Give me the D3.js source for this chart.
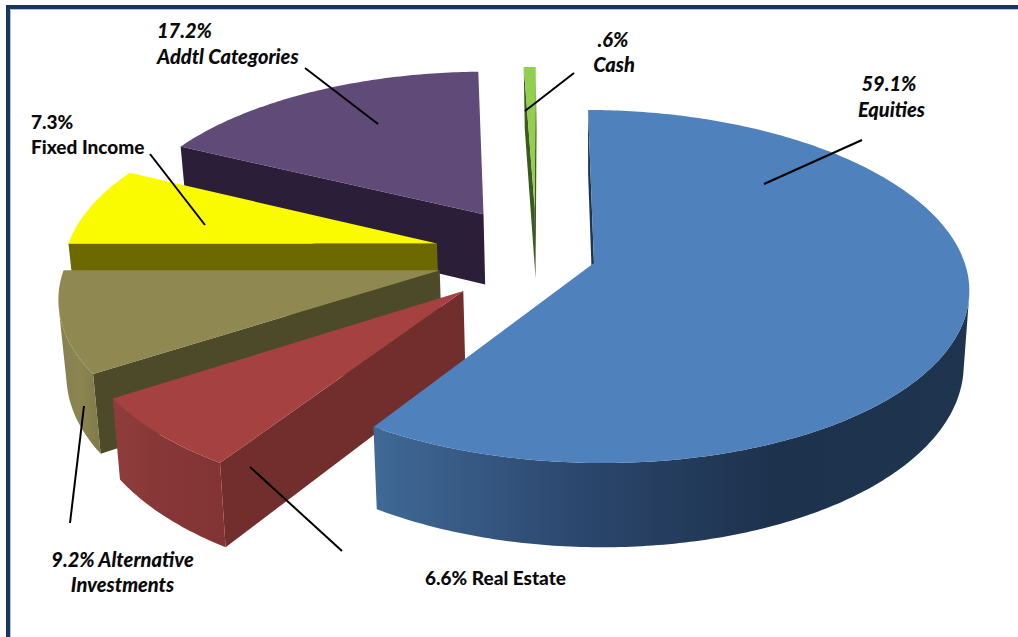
<!DOCTYPE html>
<html>
<head>
<meta charset="utf-8">
<script src="https://cdn.jsdelivr.net/npm/d3@7"></script>
<style>
  html, body { margin: 0; padding: 0; background: #fff; }
  svg { display: block; }
  text { font-family: Lato, "Open Sans", sans-serif; font-weight: 900; fill: #0a0a0a; }
</style>
</head>
<body>
<svg id="chart" width="1018" height="637"></svg>
<script>
// Portfolio allocation, clockwise from twelve o'clock
const categories = ["Equities", "Real Estate", "Alternative Investments", "Fixed Income", "Addtl Categories", "Cash"];
const shares = [59.1, 6.6, 9.2, 7.3, 17.2, 0.6];

// Face colours per slice
const topColours = ["#4f81bd", "#a64141", "#8f8850", "#fbfb00", "#5f4a78", "#90d04e"];
const wallColours = ["#1e3650", "#722e2d", "#4c4a29", "#6c6900", "#2b1e38", "#3d5a1e"];
const rimStops = [
  ["#406996", "#2c486f", "#1d324d", "#1e344f"],
  ["#8f3c3c", "#863636", "#823434"],
  ["#85804e", "#8b8552", "#7f7a47"],
  ["#6c6900", "#6c6900"],
  ["#2b1e38", "#2b1e38"],
  ["#3d5a1e", "#3d5a1e"]
];

// How far each slice is pulled out, in units of the pie radius
const pullOut = [[0, 0], [-0.3436, 0.1665], [-0.412, 0.0507], [-0.428, -0.1041], [-0.3083, -0.2849], [-0.1663, -0.325]];

// Captions and their leader lines
const captions = [
  { lines: [["59.1%", 889, 91], ["Equities", 891.5, 117]], italic: true, anchor: "middle", leader: [[862, 140], [764, 184]] },
  { lines: [["6.6% Real Estate", 425, 585]], italic: false, anchor: "start", leader: [[250, 467], [342, 551]] },
  { lines: [["9.2% Alternative", 122.5, 567], ["Investments", 122.5, 592]], italic: true, anchor: "middle", leader: [[84, 406], [70, 523]] },
  { lines: [["7.3%", 31, 129], ["Fixed Income", 31, 154]], italic: false, anchor: "start", leader: [[150, 154], [205, 225]] },
  { lines: [["17.2%", 157, 38], ["Addtl Categories", 157, 64]], italic: true, anchor: "start", leader: [[305, 68], [378, 124]] },
  { lines: [[".6%", 613, 47], ["Cash", 614, 72]], italic: true, anchor: "middle", leader: [[574, 73], [525, 111]] }
];

// Perspective of the pie plane
const originX = 594, originY = 263, radiusX = 372, radiusY = 173.4;
const perspective = 0.133, thickness = 73, baseShrink = 0.985, shear = 0.011;
const rotation = -1.04 * Math.PI / 180;

const svg = d3.select("#chart");
const defs = svg.append("defs");

// Page frame: runs off the right and bottom edges
svg.append("rect").attr("x", 8).attr("y", 7).attr("width", 1100).attr("height", 800)
  .attr("fill", "#fff").attr("stroke", "#17375e").attr("stroke-width", 4);
svg.append("rect").attr("x", 10.5).attr("y", 9.5).attr("width", 1100).attr("height", 800)
  .attr("fill", "none").attr("stroke", "#7f9cc0").attr("stroke-width", 1).attr("opacity", 0.6);

const xScale = d3.scaleLinear().domain([-1, 1]).range([originX - radiusX, originX + radiusX]);
const yScale = d3.scaleLinear().domain([-1, 1]).range([originY - radiusY, originY + radiusY]);

function project(u, v) {
  const w = 1 - perspective * v;
  const x = xScale(u / w);
  return { x, y: yScale(v / w) + shear * (x - originX), w };
}
function dropToBase(p) {
  return { x: originX + (p.x - originX) * baseShrink, y: p.y + thickness / p.w, w: p.w };
}
function signedArea(pts) {
  let sum = 0;
  pts.forEach((a, i) => {
    const b = pts[(i + 1) % pts.length];
    sum += a.x * b.y - b.x * a.y;
  });
  return sum / 2;
}
const outline = d3.line().x(d => d.x).y(d => d.y).curve(d3.curveLinearClosed);

const arcs = d3.pie().sort(null).value(d => d)
  .startAngle(rotation).endAngle(rotation + 2 * Math.PI)(shares);

function sliceGeometry(arc, i) {
  const [du, dv] = pullOut[i];
  const apex = project(du, dv);
  const steps = Math.max(2, Math.ceil((arc.endAngle - arc.startAngle) / (Math.PI / 240)));
  const rim = d3.range(steps + 1).map(s => {
    const t = arc.startAngle + (arc.endAngle - arc.startAngle) * s / steps;
    return project(du + Math.sin(t), dv - Math.cos(t));
  });
  return { apex, rim };
}

// Paint far slices first; the Equities slice sits in front of everything
const paintOrder = [5, 4, 3, 2, 1, 0];
paintOrder.forEach(i => {
  const { apex, rim } = sliceGeometry(arcs[i], i);
  const g = svg.append("g").attr("class", "slice").attr("data-category", categories[i]);

  // Straight walls, only where they face the viewer
  [[apex, rim[0]], [rim[rim.length - 1], apex]].forEach(([a, b]) => {
    const quad = [a, b, dropToBase(b), dropToBase(a)];
    if (signedArea(quad) < 0) {
      g.append("path").attr("d", outline(quad)).attr("fill", wallColours[i]);
    }
  });

  // Curved outer wall, split into the runs that face the viewer
  const runs = [];
  let run = null;
  for (let s = 0; s < rim.length - 1; s++) {
    const quad = [rim[s], rim[s + 1], dropToBase(rim[s + 1]), dropToBase(rim[s])];
    if (signedArea(quad) < 0) {
      if (!run) { run = [rim[s]]; runs.push(run); }
      run.push(rim[s + 1]);
    } else {
      run = null;
    }
  }
  runs.forEach((r, k) => {
    const poly = r.concat(r.map(dropToBase).reverse());
    const [x0, x1] = d3.extent(poly, d => d.x);
    const id = `rim-${i}-${k}`;
    const grad = defs.append("linearGradient").attr("id", id)
      .attr("gradientUnits", "userSpaceOnUse")
      .attr("x1", x0).attr("x2", x1).attr("y1", 0).attr("y2", 0);
    rimStops[i].forEach((c, n) => {
      grad.append("stop").attr("offset", n / (rimStops[i].length - 1)).attr("stop-color", c);
    });
    g.append("path").attr("d", outline(poly)).attr("fill", `url(#${id})`);
  });

  // Top face
  g.append("path").attr("d", outline([apex].concat(rim))).attr("fill", topColours[i]);
});

// Leader lines and captions
const notes = svg.append("g").attr("class", "captions");
captions.forEach(c => {
  notes.append("line")
    .attr("x1", c.leader[0][0]).attr("y1", c.leader[0][1])
    .attr("x2", c.leader[1][0]).attr("y2", c.leader[1][1])
    .attr("stroke", "#000").attr("stroke-width", 2);
  c.lines.forEach(([text, x, y]) => {
    notes.append("text").attr("x", x).attr("y", y)
      .attr("text-anchor", c.anchor)
      .attr("font-style", c.italic ? "italic" : "normal")
      .attr("font-size", c.italic ? 20 : 19)
      .text(text);
  });
});
</script>
</body>
</html>
